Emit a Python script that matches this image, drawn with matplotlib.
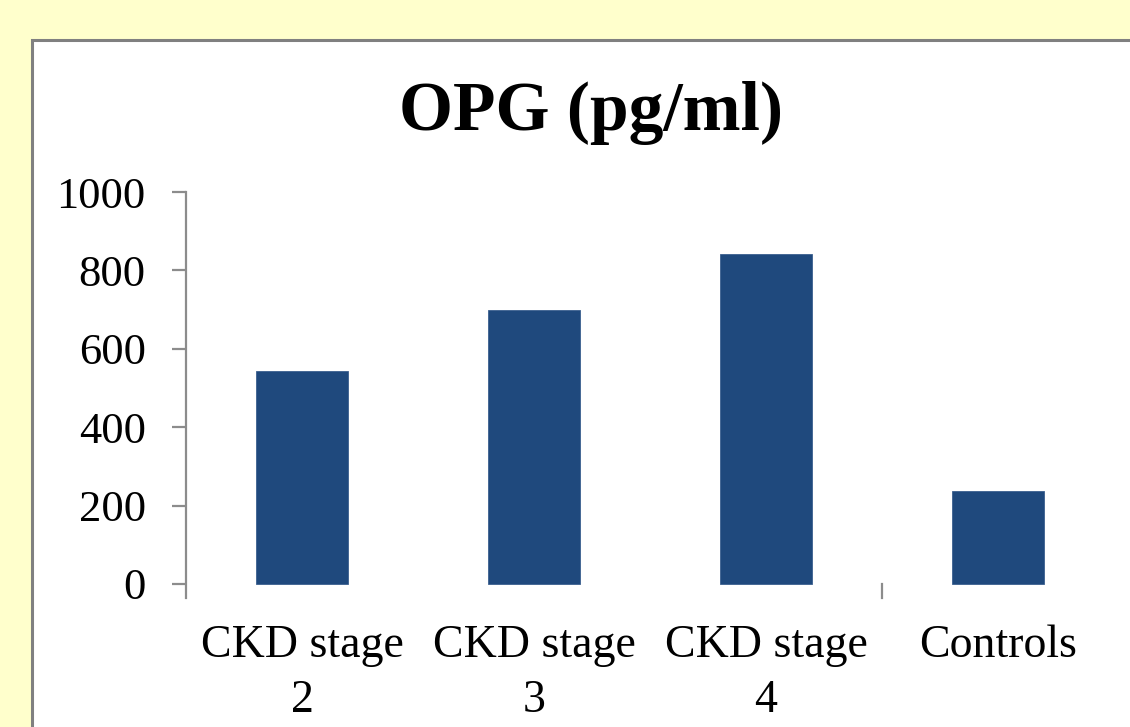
import matplotlib.pyplot as plt
from matplotlib.patches import Rectangle

groups = ['CKD stage\n2', 'CKD stage\n3', 'CKD stage\n4', 'Controls']
opg_values = [543, 699, 841, 236]
y_ticks = [0, 200, 400, 600, 800, 1000]
divider_tick = 2.5   # the one category boundary tick that shows

plt.rcParams['font.family'] = ['Liberation Serif', 'DejaVu Serif']

fig = plt.figure(figsize=(11.3, 7.27), dpi=100)
fig.patch.set_facecolor('#FFFFCC')

# white chart area with grey frame running off the page
fig.patches.append(Rectangle((32 / 1130, -0.2), 1.2, 0.2 + 1 - 40 / 727,
                             transform=fig.transFigure, facecolor='white',
                             edgecolor='#808080', linewidth=2.2, zorder=-5))

ax = fig.add_axes([186 / 1130, 1 - 598 / 727, 928 / 1130, 406 / 727])
ax.set_zorder(2)
ax.set_facecolor('none')

x = range(len(groups))
ax.bar(x, opg_values, width=0.40, color='#1F497D', edgecolor='#3B5F8F', linewidth=0.6)

ax.set_xlim(-0.5, 3.5)
ax.set_ylim(-36, 1000)
ax.set_yticks(y_ticks)
ax.set_yticklabels([str(v) for v in y_ticks], fontsize=32)
ax.set_xticks(list(x))
ax.set_xticklabels(groups, fontsize=33, linespacing=1.38)

for s in ['top', 'right', 'bottom']:
    ax.spines[s].set_visible(False)
ax.spines['left'].set_color('#8C8C8C')
ax.spines['left'].set_linewidth(1.6)

ax.tick_params(axis='y', length=10, width=1.6, color='#8C8C8C', pad=19)
ax.tick_params(axis='x', length=0, pad=19)

ax.plot([divider_tick, divider_tick], [0, -36], color='#8C8C8C', linewidth=1.6, clip_on=False)

fig.text(591 / 1130, 1 - 113 / 727, 'OPG (pg/ml)', fontsize=50, fontweight='bold',
         ha='center', va='center')

fig.savefig('out.png', dpi=100, facecolor=fig.get_facecolor())
